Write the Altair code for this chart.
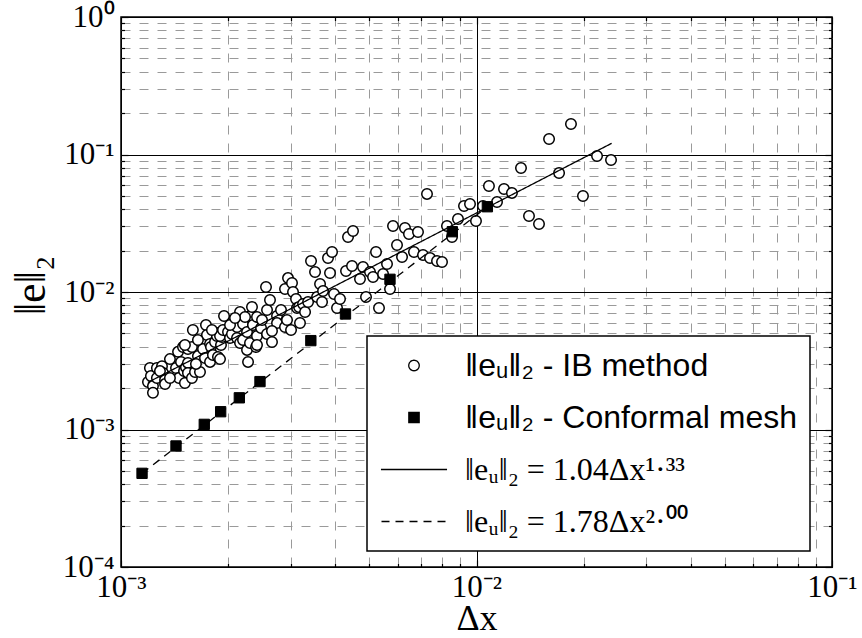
import altair as alt
import pandas as pd

# ---------------- data ----------------
ib_dx = [1.191e-3, 1.206e-3, 1.214e-3, 1.230e-3, 1.230e-3, 1.262e-3, 1.262e-3, 1.304e-3, 1.313e-3, 1.330e-3,
         1.330e-3, 1.428e-3, 1.447e-3, 1.456e-3, 1.475e-3, 1.494e-3, 1.504e-3, 1.523e-3, 1.543e-3, 1.543e-3,
         1.543e-3, 1.513e-3, 1.583e-3, 1.615e-3, 1.635e-3, 1.646e-3, 1.668e-3, 1.593e-3, 1.583e-3, 1.513e-3,
         1.701e-3, 1.723e-3, 1.734e-3, 1.745e-3, 1.780e-3, 1.780e-3, 1.791e-3, 1.814e-3, 1.838e-3, 1.862e-3,
         1.874e-3, 1.911e-3, 1.923e-3, 1.899e-3, 1.949e-3, 1.862e-3, 1.899e-3, 1.936e-3, 2.000e-3, 2.026e-3,
         2.052e-3, 2.120e-3, 2.120e-3, 2.162e-3, 2.162e-3, 2.204e-3, 2.204e-3, 2.262e-3, 2.262e-3, 2.277e-3,
         2.306e-3, 2.306e-3, 2.336e-3, 2.351e-3, 2.398e-3, 2.413e-3, 2.413e-3, 2.413e-3, 2.477e-3, 2.558e-3,
         2.575e-3, 2.575e-3, 2.625e-3, 2.659e-3, 2.747e-3, 2.747e-3, 2.893e-3, 2.893e-3, 2.931e-3, 2.950e-3,
         3.008e-3, 3.027e-3, 3.047e-3, 3.107e-3, 3.127e-3, 3.168e-3, 3.188e-3, 3.251e-3, 3.294e-3, 3.359e-3,
         3.424e-3, 3.514e-3, 3.560e-3, 3.630e-3, 3.677e-3, 3.701e-3, 3.822e-3, 3.872e-3, 3.923e-3, 3.974e-3,
         4.052e-3, 4.131e-3, 4.295e-3, 4.351e-3, 4.465e-3, 4.494e-3, 4.702e-3, 4.795e-3, 4.889e-3, 5.017e-3,
         5.116e-3, 5.216e-3, 5.318e-3, 5.460e-3, 5.601e-3, 5.711e-3, 5.823e-3, 5.976e-3, 6.173e-3, 6.293e-3,
         6.457e-3, 6.670e-3, 6.846e-3, 7.072e-3, 7.257e-3, 7.400e-3, 7.743e-3, 7.998e-3, 8.260e-3, 8.533e-3,
         8.870e-3, 9.222e-3, 9.588e-3, 9.967e-3, 1.043e-2, 1.084e-2, 1.142e-2, 1.195e-2, 1.258e-2, 1.334e-2,
         1.405e-2, 1.499e-2, 1.600e-2, 1.707e-2, 1.844e-2, 1.993e-2, 2.183e-2, 2.390e-2,
         2.026e-3, 2.493e-3, 2.233e-3, 2.659e-3, 2.819e-3, 2.093e-3, 1.802e-3, 1.646e-3, 1.373e-3, 1.287e-3,
         1.373e-3, 1.625e-3]
ib_err = [0.002215, 0.00280, 0.00245, 0.00207, 0.00185, 0.00280, 0.00237, 0.00289, 0.00258, 0.00229,
          0.00214, 0.00280, 0.00367, 0.00237, 0.00310, 0.00398, 0.00266, 0.00284, 0.00385, 0.00305,
          0.00258, 0.00218, 0.00237, 0.00262, 0.00392, 0.00342, 0.00262, 0.00529, 0.00398, 0.00412,
          0.00385, 0.00331, 0.00575, 0.00487, 0.00419, 0.00310, 0.00398, 0.00348, 0.00433, 0.00503,
          0.00337, 0.00412, 0.00471, 0.00325, 0.00669, 0.00479, 0.00479, 0.00529, 0.00512, 0.00463,
          0.00495, 0.00556, 0.00463, 0.00716, 0.00426, 0.00585, 0.00448, 0.00512, 0.00379, 0.00310,
          0.00669, 0.00426, 0.00778, 0.00575, 0.00398, 0.00658, 0.00479, 0.00412, 0.00547, 0.01087,
          0.00740, 0.00495, 0.00875, 0.00433, 0.00669, 0.00594, 0.01051, 0.00556, 0.00626, 0.01263,
          0.00529, 0.01162, 0.01000, 0.00890, 0.00765, 0.00778, 0.00595, 0.00818, 0.00716, 0.00846,
          0.01681, 0.01397, 0.00920, 0.01143, 0.00846, 0.01017, 0.01767, 0.01374, 0.01954, 0.00967,
          0.00765, 0.00890, 0.01421, 0.02513, 0.01545, 0.02778, 0.01243, 0.01520, 0.00920, 0.01397,
          0.01286, 0.01954, 0.00765, 0.01351, 0.01598, 0.01051, 0.03020, 0.02197, 0.01797, 0.02920,
          0.02642, 0.01954, 0.02732, 0.01858, 0.05166, 0.01767, 0.01681, 0.01653, 0.03020, 0.02513,
          0.03396, 0.04219, 0.04363, 0.03285, 0.04219, 0.05900, 0.04517, 0.05613, 0.05253, 0.07970,
          0.03570, 0.03122, 0.1297, 0.0734, 0.1667, 0.04995, 0.0976, 0.0912,
          0.00575, 0.00626, 0.00658, 0.00520, 0.00740, 0.00647, 0.00529, 0.00448, 0.00325, 0.00266,
          0.00237, 0.00300]

conf_dx = [1.146e-3, 1.428e-3, 1.715e-3, 1.907e-3, 2.152e-3, 2.46e-3, 3.42e-3, 4.28e-3, 5.71e-3, 8.55e-3, 1.073e-2]
conf_err = [4.80e-4, 7.59e-4, 1.09e-3, 1.347e-3, 1.70e-3, 2.23e-3, 4.43e-3, 6.92e-3, 1.237e-2, 2.745e-2, 4.17e-2]

fit_ib_dx = [1.19e-3, 2.40e-2]
fit_ib_err = [2.20e-3, 1.206e-1]
fit_conf_dx = [1.146e-3, 1.073e-2]
fit_conf_err = [4.80e-4, 4.17e-2]

series_names = ["‖eᵤ‖₂ - IB method", "‖eᵤ‖₂ - Conformal mesh",
                "‖eᵤ‖₂ = 1.04Δx¹·³³", "‖eᵤ‖₂ = 1.78Δx²·⁰⁰"]

x_major = [1e-3, 1e-2, 1e-1]
x_major_labels = ["10⁻³", "10⁻²", "10⁻¹"]
y_major = [1e-4, 1e-3, 1e-2, 1e-1, 1.0]
y_major_labels = ["10⁻⁴", "10⁻³", "10⁻²", "10⁻¹", "10⁰"]
minor_mult = [2, 3, 4, 5, 6, 7, 8, 9]
x_minor = [m * d for d in x_major[:-1] for m in minor_mult]
y_minor = [m * d for d in y_major[:-1] for m in minor_mult]

# ---------------- tables ----------------
df_ib = pd.DataFrame({"dx": ib_dx, "err": ib_err, "series": series_names[0]})
df_conf = pd.DataFrame({"dx": conf_dx, "err": conf_err, "series": series_names[1]})
df_fit_ib = pd.DataFrame({"dx": fit_ib_dx, "err": fit_ib_err, "series": series_names[2]})
df_fit_conf = pd.DataFrame({"dx": fit_conf_dx, "err": fit_conf_err, "series": series_names[3]})


def label_expr(vals, labels):
    expr = f"'{labels[-1]}'"
    for i in range(len(vals) - 2, -1, -1):
        thr = vals[i] * 3.1623
        expr = f"datum.value < {thr:.6g} ? '{labels[i]}' : ({expr})"
    return expr


SERIF = "Liberation Serif"
MAJ, MIN = 7, 3.5

xs = alt.Scale(type="log", domain=[1e-3, 1e-1], nice=False)
ys = alt.Scale(type="log", domain=[1e-4, 1.0], nice=False)


def make_axis(orient, values, major, labels_on=False, lab_expr=None, title="", grid=False, **kw):
    size = MAJ if major else MIN
    args = dict(orient=orient, values=values, tickSize=size, offset=-size, domain=False,
                tickColor="black", tickWidth=1.2, grid=grid, title=title)
    if grid:
        if major:
            args.update(gridColor="black", gridWidth=1, gridOpacity=1)
        else:
            args.update(gridColor="#9a9a9a", gridWidth=1, gridDash=[9, 9], gridOpacity=1)
    if labels_on:
        args.update(labels=True, labelExpr=lab_expr, labelFont=SERIF, labelFontSize=31,
                    labelColor="black", labelFlush=False, labelOverlap=False, labelBound=False,
                    labelPadding=5 if orient == "bottom" else 7)
    else:
        args.update(labels=False)
    args.update(kw)
    return alt.Axis(**args)


ax_b_major = make_axis("bottom", x_major, True, True, label_expr(x_major, x_major_labels),
                       title="Δx", grid=True, titleFont=SERIF, titleFontSize=36,
                       titleFontWeight="normal", titleColor="black", titleY=69,
                       titleBaseline="alphabetic")
ax_l_major = make_axis("left", y_major, True, True, label_expr(y_major, y_major_labels),
                       title="‖e‖₂", grid=True, titleFont=SERIF, titleFontSize=44,
                       titleFontWeight="normal", titleColor="black", titleX=-97, titleY=268,
                       titleBaseline="middle")
ax_b_minor = make_axis("bottom", x_minor, False, grid=True)
ax_l_minor = make_axis("left", y_minor, False, grid=True)
ax_t_major = make_axis("top", x_major, True)
ax_r_major = make_axis("right", y_major, True)
ax_t_minor = make_axis("top", x_minor, False)
ax_r_minor = make_axis("right", y_minor, False)

LINE_SYMBOL = "M-6.5,0H6.5"
shape_scale = alt.Scale(domain=series_names, range=["circle", "square", LINE_SYMBOL, LINE_SYMBOL])
fill_scale = alt.Scale(domain=series_names, range=["white", "black", "transparent", "transparent"])
stroke_scale = alt.Scale(domain=series_names, range=["black", "black", "black", "black"])
size_scale = alt.Scale(domain=series_names, range=[110, 100, 100, 100])
dash_scale = alt.Scale(domain=series_names, range=[[1, 0], [1, 0], [1, 0], [8, 6]])

leg = alt.Legend(title=None, orient="none", legendX=246, legendY=319,
                 symbolStrokeColor="black", symbolStrokeWidth=1.3,
                 symbolOffset=19, labelOffset=35,
                 labelFont=alt.ExprRef("datum.index >= 2 ? 'Liberation Serif' : 'Liberation Sans'"))

circles = alt.Chart(df_ib).mark_point(filled=True, strokeWidth=1.5, opacity=1).encode(
    x=alt.X("dx:Q", scale=xs, axis=ax_b_major),
    y=alt.Y("err:Q", scale=ys, axis=ax_l_major),
    shape=alt.Shape("series:N", scale=shape_scale, legend=leg),
    fill=alt.Fill("series:N", scale=fill_scale, legend=leg),
    stroke=alt.Stroke("series:N", scale=stroke_scale, legend=leg),
    size=alt.Size("series:N", scale=size_scale, legend=leg),
)

squares = alt.Chart(df_conf).mark_point(filled=True, strokeWidth=1, opacity=1).encode(
    x=alt.X("dx:Q", scale=xs, axis=ax_b_minor),
    y=alt.Y("err:Q", scale=ys, axis=ax_l_minor),
    shape=alt.Shape("series:N", scale=shape_scale, legend=leg),
    fill=alt.Fill("series:N", scale=fill_scale, legend=leg),
    stroke=alt.Stroke("series:N", scale=stroke_scale, legend=leg),
    size=alt.Size("series:N", scale=size_scale, legend=leg),
)

line_ib = alt.Chart(df_fit_ib).mark_line(strokeWidth=1.3).encode(
    x=alt.X("dx:Q", scale=xs, axis=ax_t_major),
    y=alt.Y("err:Q", scale=ys, axis=ax_r_major),
    stroke=alt.Stroke("series:N", scale=stroke_scale, legend=leg),
    strokeDash=alt.StrokeDash("series:N", scale=dash_scale, legend=leg),
)

line_conf = alt.Chart(df_fit_conf).mark_line(strokeWidth=1.3).encode(
    x=alt.X("dx:Q", scale=xs, axis=ax_t_minor),
    y=alt.Y("err:Q", scale=ys, axis=ax_r_minor),
    stroke=alt.Stroke("series:N", scale=stroke_scale, legend=leg),
    strokeDash=alt.StrokeDash("series:N", scale=dash_scale, legend=leg),
)

chart = (
    alt.layer(circles, squares, line_ib, line_conf)
    .resolve_axis(x="independent", y="independent")
    .properties(width=711, height=550,
                autosize=alt.AutoSizeParams(type="none"),
                padding={"left": 121, "top": 17, "right": 30, "bottom": 71},
                background="white")
    .configure_view(stroke="black", strokeWidth=1.5)
    .configure_legend(
        padding=12, rowPadding=17, clipHeight=35,
        labelFontSize=32, labelColor="black", labelLimit=600,
        strokeColor="black", strokeWidth=1.5, fillColor="white", cornerRadius=0,
    )
)

chart.save("out.html", embed_options={"renderer": "svg", "actions": False})
